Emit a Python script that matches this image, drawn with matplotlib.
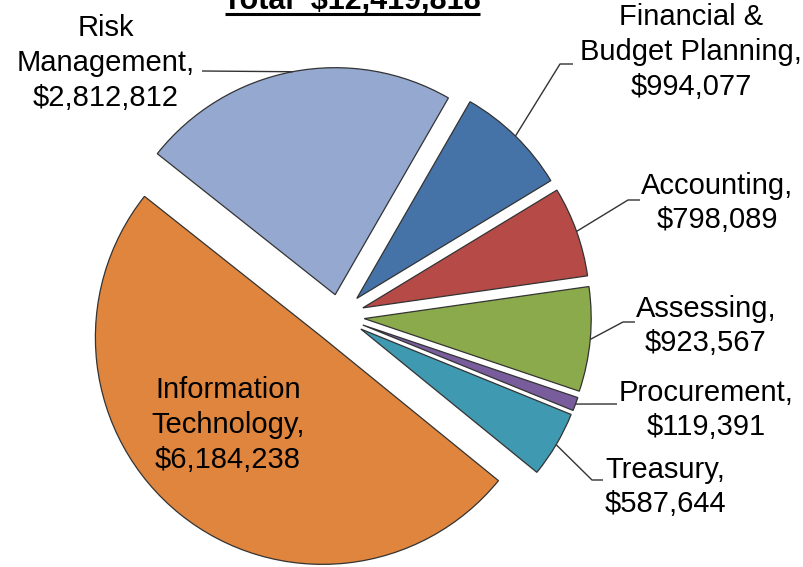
import matplotlib
matplotlib.use("Agg")
import matplotlib.pyplot as plt
import numpy as np

# ---- data ----
categories = ["Risk\nManagement", "Financial &\nBudget Planning", "Accounting",
              "Assessing", "Procurement", "Treasury", "Information\nTechnology"]
values = [2812812, 994077, 798089, 923567, 119391, 587644, 6184238]
title_text = "Total  $12,419,818"

# ---- style / layout ----
colors = ["#94A8D0", "#4572A7", "#B64A47", "#8BAA4B", "#785C9C", "#3E99B1", "#DF853D"]
radius = 227
explode = [22, 25, 25, 25, 25, 25, 27]   # pixel offsets
W, H = 804, 567
FONT = ["Liberation Sans", "DejaVu Sans"]

# label layout in image pixel coords (x center, y center), and leader elbow/end points
label_pos = [(106, 63), (691, 52), (717, 203), (706, 326), (706, 410), (665, 487), (228, 425)]
leaders = [
    [(202, 71)],
    [(560, 64), (573, 64)],
    [(628, 200), (640, 200)],
    [(623, 322), (635, 322)],
    [(612, 404), (617, 404)],
    [(592, 480), (603, 480)],
    None,
]

fig = plt.figure(figsize=(W / 100, H / 100), dpi=100)
ax = fig.add_axes([0, 0, 1, 1])

center = (339.3, H - 316.3)
wedges, _ = ax.pie(values, explode=explode, colors=colors, startangle=141.6,
                   counterclock=False, center=center, radius=radius,
                   wedgeprops=dict(edgecolor="#333333", linewidth=0.9))
ax.set_xlim(0, W)
ax.set_ylim(0, H)
ax.set_aspect("equal")
ax.axis("off")

for w, cat, val, (lx, ly), ld in zip(wedges, categories, values, label_pos, leaders):
    txt = f"{cat},\n${val:,}"
    ax.text(lx, H - ly, txt, ha="center", va="center", multialignment="center",
            fontsize=21, family=FONT, color="black", linespacing=1.3)
    if ld is not None:
        th = np.deg2rad((w.theta1 + w.theta2) / 2)
        cx, cy = w.center
        sx, sy = cx + w.r * np.cos(th), cy + w.r * np.sin(th)
        xs = [sx] + [p[0] for p in ld]
        ys = [sy] + [H - p[1] for p in ld]
        ax.plot(xs, ys, color="#333333", lw=1.0, solid_capstyle="butt")

# title (cut off at top like the reference), underlined
ax.text(352, H - 9.3, title_text, ha="center", va="baseline",
        fontsize=22, fontweight="bold", family=FONT, color="black")
ax.plot([225, 480], [H - 13.5, H - 13.5], color="black", lw=2.2, solid_capstyle="butt")

fig.savefig("out.png", dpi=100)
